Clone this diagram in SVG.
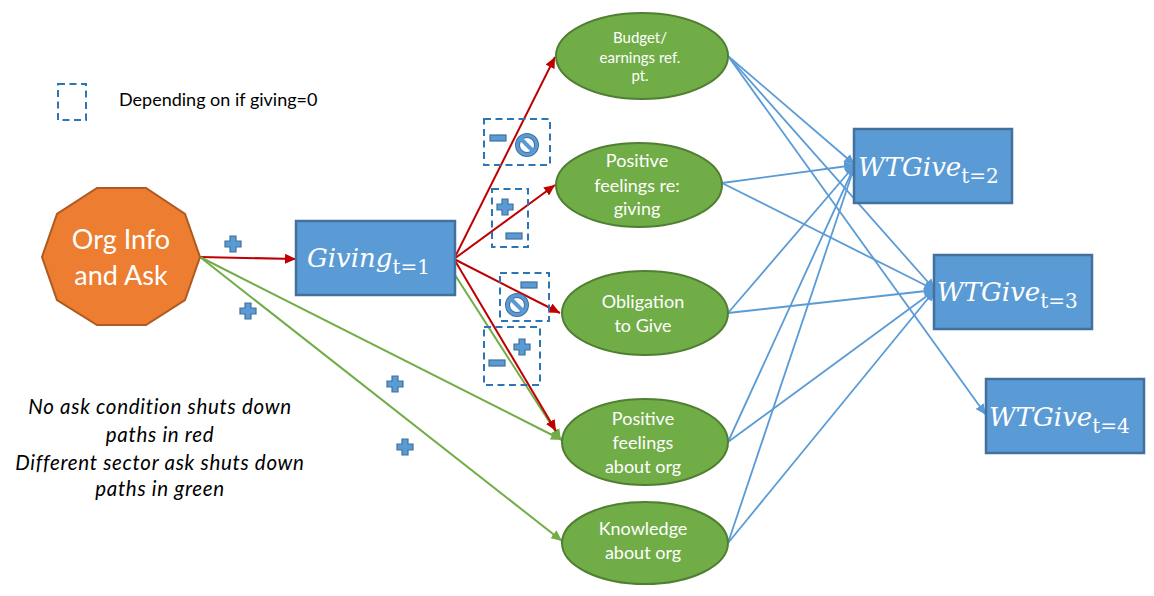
<svg xmlns="http://www.w3.org/2000/svg" width="1154" height="596" viewBox="0 0 1154 596">
<style>
text{font-family:"Lato","Open Sans",sans-serif;fill:#000}
.w{fill:#fff;text-anchor:middle;font-size:18px}
.m{fill:#fff;font-family:"DejaVu Serif","Liberation Serif",serif;font-style:italic;font-size:26px}
.s{font-size:20px;font-style:normal}
.box{fill:#5b9bd5;stroke:#41719c;stroke-width:2.5}
.ell{fill:#70ad47;stroke:#507e32;stroke-width:2}
.note{font-size:20.5px;font-style:italic;text-anchor:middle;letter-spacing:.7px}
.dash{fill:none;stroke:#2e75b6;stroke-width:2;stroke-dasharray:7 4.5}
.r{stroke:#c00000;stroke-width:2;fill:none;marker-end:url(#ar)}
.g{stroke:#70ad47;stroke-width:2;fill:none;marker-end:url(#ag)}
.b{stroke:#5b9bd5;stroke-width:1.8;fill:none;marker-end:url(#ab)}
.sym{fill:#5b9bd5;stroke:#41719c;stroke-width:1.2}
</style>
<defs>
<marker id="ar" markerUnits="userSpaceOnUse" markerWidth="12" markerHeight="10" refX="11" refY="5" orient="auto"><path d="M0 0L11 5L0 10z" fill="#c00000"/></marker>
<marker id="ag" markerUnits="userSpaceOnUse" markerWidth="12" markerHeight="10" refX="11" refY="5" orient="auto"><path d="M0 0L11 5L0 10z" fill="#70ad47"/></marker>
<marker id="ab" markerUnits="userSpaceOnUse" markerWidth="12" markerHeight="10" refX="11" refY="5" orient="auto"><path d="M0 0L11 5L0 10z" fill="#5b9bd5"/></marker>
<path id="plus" class="sym" d="M-3-8H3V-3H8V3H3V8H-3V3H-8V-3H-3z"/>
<rect id="minus" class="sym" x="-8" y="-3" width="16" height="6"/>
<g id="no"><circle r="9.5" fill="none" stroke="#41719c" stroke-width="5"/><circle r="9.5" fill="none" stroke="#5b9bd5" stroke-width="3"/><path d="M-6-6L6 6" stroke="#5b9bd5" stroke-width="4"/></g>
</defs>
<g id="connectors">
<path class="r" d="M200 257L296 259"/>
<path class="r" d="M454 259L555 57"/>
<path class="r" d="M454 259L555 185"/>
<path class="r" d="M454 259L560 313"/>
<path class="g" d="M455 275L561 440"/>
<path class="r" d="M454 259L556 431"/>
<path class="g" d="M200 257L562 440"/>
<path class="g" d="M200 257L562 541"/>
<path class="b" d="M728 56L855 165"/>
<path class="b" d="M728 56L935 290"/>
<path class="b" d="M728 56L986 415"/>
<path class="b" d="M722 183L855 165"/>
<path class="b" d="M722 183L935 290"/>
<path class="b" d="M728 313L855 165"/>
<path class="b" d="M728 313L935 290"/>
<path class="b" d="M728 442L855 165"/>
<path class="b" d="M728 442L935 290"/>
<path class="b" d="M728 543L855 165"/>
<path class="b" d="M728 543L935 290"/>
</g>
<g id="org"><path d="M97 188H146L185 214L200 257L185 300L146 325H97L57 300L42 257L57 214z" fill="#ed7d31" stroke="#ae5a21" stroke-width="2"/>
<text class="w" style="font-size:27px" x="121" y="249">Org Info</text><text class="w" style="font-size:27px" x="121" y="285">and Ask</text></g>
<g id="giving"><rect class="box" x="296" y="221" width="159" height="74"/><text class="m" x="307" y="267">Giving<tspan class="s" dy="7">t=1</tspan></text></g>
<g id="budget"><ellipse class="ell" cx="642" cy="56" rx="86" ry="43"/><text class="w" style="font-size:15px" x="640" y="43">Budget/</text><text class="w" style="font-size:15px" x="640" y="63">earnings ref.</text><text class="w" style="font-size:15px" x="640" y="81">pt.</text></g>
<g id="feelings-giving"><ellipse class="ell" cx="639" cy="185" rx="83" ry="42"/><text class="w" x="637" y="167">Positive</text><text class="w" x="637" y="192">feelings re:</text><text class="w" x="637" y="215">giving</text></g>
<g id="obligation"><ellipse class="ell" cx="645" cy="313" rx="83" ry="42"/><text class="w" x="643" y="308">Obligation</text><text class="w" x="643" y="332">to Give</text></g>
<g id="feelings-org"><ellipse class="ell" cx="645" cy="442" rx="83" ry="43"/><text class="w" x="643" y="425">Positive</text><text class="w" x="643" y="449">feelings</text><text class="w" x="643" y="473">about org</text></g>
<g id="knowledge"><ellipse class="ell" cx="645" cy="543" rx="83" ry="41"/><text class="w" x="643" y="535">Knowledge</text><text class="w" x="643" y="559">about org</text></g>
<g id="wt2"><rect class="box" x="854" y="129" width="158" height="74"/><text class="m" x="858" y="176">WTGive<tspan class="s" dy="7">t=2</tspan></text></g>
<g id="wt3"><rect class="box" x="934" y="255" width="158" height="74"/><text class="m" x="937" y="301">WTGive<tspan class="s" dy="7">t=3</tspan></text></g>
<g id="wt4"><rect class="box" x="986" y="379" width="158" height="74"/><text class="m" x="989" y="426">WTGive<tspan class="s" dy="7">t=4</tspan></text></g>
<g id="signs">
<rect class="dash" x="58" y="84" width="28" height="36"/>
<rect class="dash" x="484" y="119" width="66" height="46"/>
<rect class="dash" x="492" y="189" width="36" height="58"/>
<rect class="dash" x="500" y="273" width="49" height="48"/>
<rect class="dash" x="484" y="327" width="56" height="58"/>
<use href="#plus" x="233" y="244"/><use href="#plus" x="248" y="311"/><use href="#plus" x="395" y="384"/><use href="#plus" x="405" y="447"/>
<use href="#minus" x="498" y="138"/><use href="#no" x="527" y="145"/>
<use href="#plus" x="505" y="207"/><use href="#minus" x="514" y="236"/>
<use href="#minus" x="529" y="285"/><use href="#no" x="517" y="305"/>
<use href="#plus" x="522" y="347"/><use href="#minus" x="497" y="363"/>
</g>
<g id="notes">
<text x="119" y="106" font-size="18">Depending on if giving=0</text>
<text class="note" x="160" y="414">No ask condition shuts down</text>
<text class="note" x="160" y="442">paths in red</text>
<text class="note" x="160" y="470">Different sector ask shuts down</text>
<text class="note" x="160" y="496">paths in green</text>
</g>
</svg>
